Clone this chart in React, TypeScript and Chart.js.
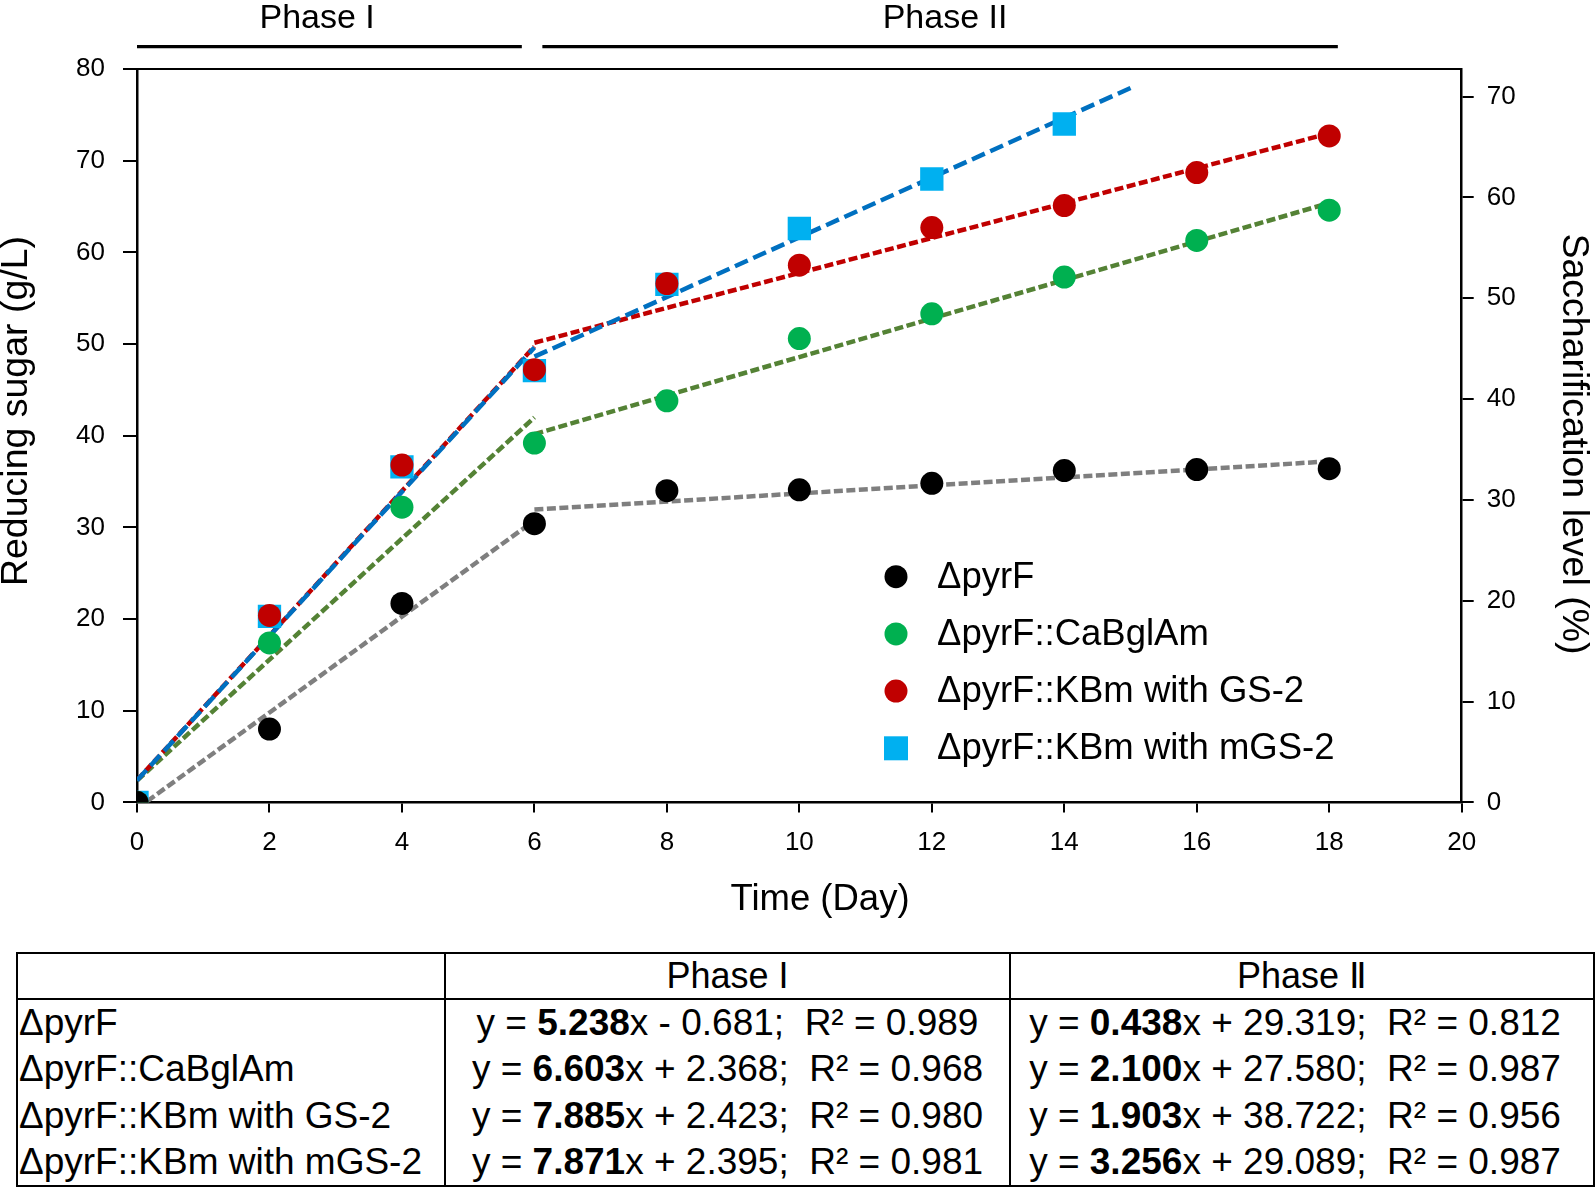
import React, { useEffect, useRef } from "react";
import { Chart, registerables } from "chart.js";

Chart.register(...registerables);

// ---------- data ----------
const seriesNames = [
  "ΔpyrF",
  "ΔpyrF::CaBglAm",
  "ΔpyrF::KBm with GS-2",
  "ΔpyrF::KBm with mGS-2",
];
const days = [0, 2, 4, 6, 8, 10, 12, 14, 16, 18];
const daysMgs2 = [0, 2, 4, 6, 8, 10, 12, 14];
const pyrF = [0, 8.0, 21.7, 30.4, 34.0, 34.1, 34.8, 36.2, 36.3, 36.4];
const caBgl = [0, 17.4, 32.2, 39.2, 43.8, 50.6, 53.3, 57.3, 61.3, 64.6];
const gs2 = [0, 20.4, 36.8, 47.2, 56.6, 58.6, 62.7, 65.1, 68.7, 72.7];
const mgs2 = [0, 20.3, 36.6, 47.1, 56.5, 62.6, 68.0, 74.0];

// trend line end points (day, g/L)
const phase1Days = [0, 6];
const phase2Days = [6, 18];
const phase2DaysMgs2 = [6, 15];
const pyrFTrend1 = [-0.68, 30.75];
const pyrFTrend2 = [31.95, 37.2];
const caBglTrend1 = [2.37, 41.99];
const caBglTrend2 = [40.18, 65.38];
const gs2Trend1 = [2.42, 49.73];
const gs2Trend2 = [50.14, 72.98];
const mgs2Trend1 = [2.4, 49.62];
const mgs2Trend2 = [48.62, 77.93];

// axes
const xTicks = [0, 2, 4, 6, 8, 10, 12, 14, 16, 18, 20];
const yTicks = [0, 10, 20, 30, 40, 50, 60, 70, 80];
const y2Ticks = [0, 10, 20, 30, 40, 50, 60, 70];
const y2Max = 72.73;

// phases (in days)
const phaseLabels = ["Phase I", "Phase II"];
const phaseStart = [0, 6.12];
const phaseEnd = [5.81, 18.13];
const phaseLabelAt = [2.72, 12.2];

// table
const tablePhaseHeaders = ["Phase I", "Phase Ⅱ"];
const phase1Slope = ["5.238", "6.603", "7.885", "7.871"];
const phase1Intercept = ["- 0.681", "+ 2.368", "+ 2.423", "+ 2.395"];
const phase1R2 = ["0.989", "0.968", "0.980", "0.981"];
const phase2Slope = ["0.438", "2.100", "1.903", "3.256"];
const phase2Intercept = ["+ 29.319", "+ 27.580", "+ 38.722", "+ 29.089"];
const phase2R2 = ["0.812", "0.987", "0.956", "0.987"];

// ---------- styles ----------
const FONT = "'Liberation Sans', Arial, sans-serif";
const pointColors = ["#000000", "#00b050", "#c00000", "#00b0f0"];
const trendColors = ["#7f7f7f", "#548235", "#c00000", "#0070c0"];
const W = 1595;
const H = 940;

const pts = (xs: number[], ys: number[]) => xs.map((x, i) => ({ x, y: ys[i] }));

const overlayPlugin = {
  id: "overlay",
  afterDraw(chart: any) {
    const { ctx, chartArea, scales } = chart;
    const xs = scales.x;
    ctx.save();
    // top frame line
    ctx.strokeStyle = "#000";
    ctx.lineWidth = 2;
    ctx.beginPath();
    ctx.moveTo(chartArea.left, chartArea.top);
    ctx.lineTo(chartArea.right, chartArea.top);
    ctx.stroke();

    // phase bars + labels
    ctx.lineWidth = 3.3;
    ctx.fillStyle = "#000";
    ctx.font = `34px ${FONT}`;
    ctx.textAlign = "center";
    ctx.textBaseline = "alphabetic";
    phaseLabels.forEach((lab, i) => {
      const a = xs.getPixelForValue(phaseStart[i]);
      const b = xs.getPixelForValue(phaseEnd[i]);
      ctx.beginPath();
      ctx.moveTo(a, 46.7);
      ctx.lineTo(b, 46.7);
      ctx.stroke();
      ctx.fillText(lab, xs.getPixelForValue(phaseLabelAt[i]), 28);
    });

    // axis titles
    ctx.font = `36.5px ${FONT}`;
    ctx.fillText("Time (Day)", 820, 910);
    ctx.save();
    ctx.translate(27, 411);
    ctx.rotate(-Math.PI / 2);
    ctx.font = `37.5px ${FONT}`;
    ctx.fillText("Reducing sugar (g/L)", 0, 0);
    ctx.restore();
    ctx.save();
    ctx.translate(1563, 444);
    ctx.rotate(Math.PI / 2);
    ctx.font = `37.5px ${FONT}`;
    ctx.fillText("Saccharification level (%)", 0, 0);
    ctx.restore();

    // legend
    const lx = 896;
    const tx = 937;
    const ly0 = 576.7;
    const dy = 57.2;
    ctx.font = `36.5px ${FONT}`;
    ctx.textAlign = "left";
    ctx.textBaseline = "middle";
    for (let i = 0; i < 4; i++) {
      const ds = chart.data.datasets[i];
      const y = ly0 + i * dy;
      ctx.fillStyle = ds.backgroundColor;
      if (ds.pointStyle === "rect") {
        ctx.fillRect(lx - 12, y - 12, 24, 24);
      } else {
        ctx.beginPath();
        ctx.arc(lx, y, 11.5, 0, Math.PI * 2);
        ctx.fill();
      }
      ctx.fillStyle = "#000";
      ctx.fillText(ds.label, tx, y + 1);
    }
    ctx.restore();
  },
};

function ChartBlock() {
  const ref = useRef<HTMLCanvasElement | null>(null);
  useEffect(() => {
    if (!ref.current) return;
    const pointSets = [pts(days, pyrF), pts(days, caBgl), pts(days, gs2), pts(daysMgs2, mgs2)];
    const trendSets = [
      [pts(phase1Days, pyrFTrend1), pts(phase2Days, pyrFTrend2)],
      [pts(phase1Days, caBglTrend1), pts(phase2Days, caBglTrend2)],
      [pts(phase1Days, gs2Trend1), pts(phase2Days, gs2Trend2)],
      [pts(phase1Days, mgs2Trend1), pts(phase2DaysMgs2, mgs2Trend2)],
    ];
    const datasets: any[] = [];
    pointSets.forEach((d, i) => {
      const square = i === 3;
      datasets.push({
        label: seriesNames[i],
        data: d,
        showLine: false,
        pointStyle: square ? "rect" : "circle",
        pointRadius: square ? 16.5 : 11.5,
        pointHoverRadius: square ? 16.5 : 11.5,
        backgroundColor: pointColors[i],
        borderColor: pointColors[i],
        pointBorderWidth: 0,
        borderWidth: 0,
        yAxisID: "y",
      });
    });
    // blue trend first so it is painted over the red one
    [3, 2, 1, 0].forEach((i) => {
      trendSets[i].forEach((d, j) => {
        datasets.push({
          label: `${seriesNames[i]} trend ${j + 1}`,
          data: d,
          showLine: true,
          pointRadius: 0,
          pointHoverRadius: 0,
          borderColor: trendColors[i],
          backgroundColor: trendColors[i],
          borderWidth: 4.5,
          borderDash: i === 3 ? [14, 6] : [9, 3.5],
          borderCapStyle: "butt",
          fill: false,
          yAxisID: "y",
        });
      });
    });

    const tickFont = { family: FONT, size: 26 };
    const chart = new Chart(ref.current, {
      type: "scatter",
      data: { datasets },
      plugins: [overlayPlugin],
      options: {
        responsive: false,
        maintainAspectRatio: false,
        devicePixelRatio: 1,
        animation: false,
        events: [],
        layout: { padding: { top: 69, left: 0, right: 0, bottom: 0 } },
        plugins: { legend: { display: false }, tooltip: { enabled: false } },
        scales: {
          x: {
            type: "linear",
            position: "bottom",
            min: 0,
            max: 20,
            afterBuildTicks: (s: any) => {
              s.ticks = xTicks.map((v) => ({ value: v }));
            },
            afterFit: (s: any) => {
              s.height = H - 802.4;
            },
            ticks: { font: tickFont, color: "#000", padding: 15, maxRotation: 0, autoSkip: false },
            grid: { drawOnChartArea: false, drawTicks: true, tickLength: 10, color: "#000", lineWidth: 2 },
            border: { display: true, color: "#000", width: 2.5 },
          },
          y: {
            type: "linear",
            position: "left",
            min: 0,
            max: 80,
            afterBuildTicks: (s: any) => {
              s.ticks = yTicks.map((v) => ({ value: v }));
            },
            afterFit: (s: any) => {
              s.width = 137;
            },
            ticks: { font: tickFont, color: "#000", padding: 18, autoSkip: false },
            grid: { drawOnChartArea: false, drawTicks: true, tickLength: 14, color: "#000", lineWidth: 2 },
            border: { display: true, color: "#000", width: 2.5 },
          },
          y2: {
            type: "linear",
            position: "right",
            min: 0,
            max: y2Max,
            afterBuildTicks: (s: any) => {
              s.ticks = y2Ticks.map((v) => ({ value: v }));
            },
            afterFit: (s: any) => {
              s.width = W - 1461.7;
            },
            ticks: { font: tickFont, color: "#000", padding: 13, autoSkip: false },
            grid: { drawOnChartArea: false, drawTicks: true, tickLength: 12, color: "#000", lineWidth: 2 },
            border: { display: true, color: "#000", width: 2.5 },
          },
        },
      } as any,
    });
    return () => chart.destroy();
  }, []);
  return (
    <canvas
      ref={ref}
      width={W}
      height={H}
      style={{ position: "absolute", left: 0, top: 0, width: W, height: H, display: "block" }}
    />
  );
}

function EquationTable() {
  const border = "2px solid #000";
  const cellBase: React.CSSProperties = {
    padding: 0,
    whiteSpace: "pre",
    verticalAlign: "middle",
    borderLeft: border,
    borderRight: border,
    lineHeight: "40px",
  };
  const eq = (slope: string, inter: string, r2: string) => (
    <>
      {"y = "}
      <b>{slope}</b>
      {`x ${inter};  R² = ${r2}`}
    </>
  );
  return (
    <table
      style={{
        position: "absolute",
        left: 16,
        top: 952,
        width: 1577,
        borderCollapse: "collapse",
        tableLayout: "fixed",
        fontFamily: FONT,
        fontSize: 37,
        color: "#000",
        border,
      }}
    >
      <colgroup>
        <col style={{ width: 428 }} />
        <col style={{ width: 565 }} />
        <col style={{ width: 584 }} />
      </colgroup>
      <tbody>
        <tr style={{ height: 46 }}>
          <td style={{ ...cellBase, borderBottom: border }} />
          {tablePhaseHeaders.map((h) => (
            <td key={h} style={{ ...cellBase, borderBottom: border, textAlign: "center", fontSize: 36 }}>
              {h}
            </td>
          ))}
        </tr>
        {seriesNames.map((name, i) => (
          <tr key={name} style={{ height: 46.7 }}>
            <td style={{ ...cellBase, textAlign: "left", paddingLeft: 1 }}>{name}</td>
            <td style={{ ...cellBase, textAlign: "center" }}>
              {eq(phase1Slope[i], phase1Intercept[i], phase1R2[i])}
            </td>
            <td style={{ ...cellBase, textAlign: "center", paddingRight: 14 }}>
              {eq(phase2Slope[i], phase2Intercept[i], phase2R2[i])}
            </td>
          </tr>
        ))}
      </tbody>
    </table>
  );
}

export default function App() {
  return (
    <div
      style={{
        position: "absolute",
        left: 0,
        top: 0,
        width: W,
        height: 1190,
        background: "#fff",
        overflow: "hidden",
      }}
    >
      <ChartBlock />
      <EquationTable />
    </div>
  );
}
